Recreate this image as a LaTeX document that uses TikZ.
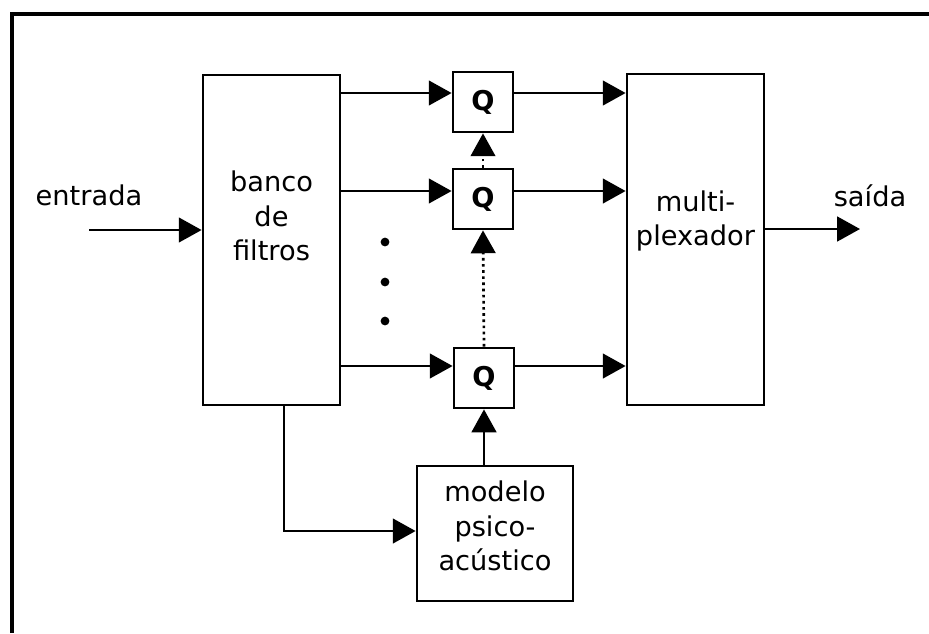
\documentclass[tikz,border=0pt]{standalone}
\usepackage{fontspec}
\setmainfont{DejaVu Sans}
\usepackage{tikz}
\usetikzlibrary{positioning,arrows.meta}

\begin{document}
\begin{tikzpicture}[
  x=0.02cm, y=-0.02cm,
  blk/.style={draw, line width=1.6pt, inner sep=0pt},
  qbox/.style={draw, line width=1.6pt, minimum size=1.2cm, inner sep=0pt, font=\fontsize{15.5}{18}\selectfont\bfseries},
  txt/.style={align=center, inner sep=0pt, font=\fontsize{15.5}{19.8}\selectfont},
  arr/.style={line width=1.5pt, -{Triangle[length=13pt, width=14pt]}},
  darr/.style={line width=1.5pt, dotted, -{Triangle[length=13pt, width=14pt]}},
  dotnode/.style={circle, fill, inner sep=0pt, minimum size=5pt}
]
\useasboundingbox (0,0) rectangle (929,633);
\draw[line width=2pt] (12,633) -- (12,14) -- (929,14);

\node[blk, minimum width=2.74cm, minimum height=6.6cm] (banco) at (271.5,240) {};
\node[blk, minimum width=2.74cm, minimum height=6.62cm] (mux) at (695.5,239.5) {};
\node[blk, minimum width=3.12cm, minimum height=2.7cm] (modelo) at (495,533.5) {};

\node[qbox] (q1) at (483,102) {Q};
\node[qbox] (q2) at (483,199) {Q};
\node[qbox] (q3) at (484,378) {Q};

\node[txt] (bancolbl) at (271.5,216) {banco\\de\\filtros};
\node[txt] (muxlbl) at (695.5,221) {multi-\\plexador};
\node[txt] (modelolbl) at (495,526) {modelo\\psico-\\acústico};
\node[txt] (entrada) at (89,195) {entrada};
\node[txt] (saida) at (870,196) {saída};

\foreach \y [count=\i] in {242,282,321}
  \node[dotnode] (d\i) at (385,\y) {};

\coordinate (row1) at (0,93);
\coordinate (row2) at (0,191);
\coordinate (row3) at (0,366);
\coordinate (in) at (89,230);
\coordinate (out) at (860,229);
\coordinate (tap) at (284,531);

\draw[arr] (in) -- (banco.west |- in);
\draw[arr] (row1 -| banco.east) -- (row1 -| q1.west);
\draw[arr] (row2 -| banco.east) -- (row2 -| q2.west);
\draw[arr] (row3 -| banco.east) -- (row3 -| q3.west);
\draw[arr] (row1 -| q1.east) -- (row1 -| mux.west);
\draw[arr] (row2 -| q2.east) -- (row2 -| mux.west);
\draw[arr] (row3 -| q3.east) -- (row3 -| mux.west);
\draw[arr] (mux.east |- out) -- (out);
\draw[darr] (q3.north) -- (q2.south);
\draw[darr] (q2.north) -- (q1.south);
\draw[arr] (modelo.north -| q3.south) -- (q3.south);
\draw[arr] (banco.south -| tap) |- (tap -| modelo.west);
\end{tikzpicture}
\end{document}
